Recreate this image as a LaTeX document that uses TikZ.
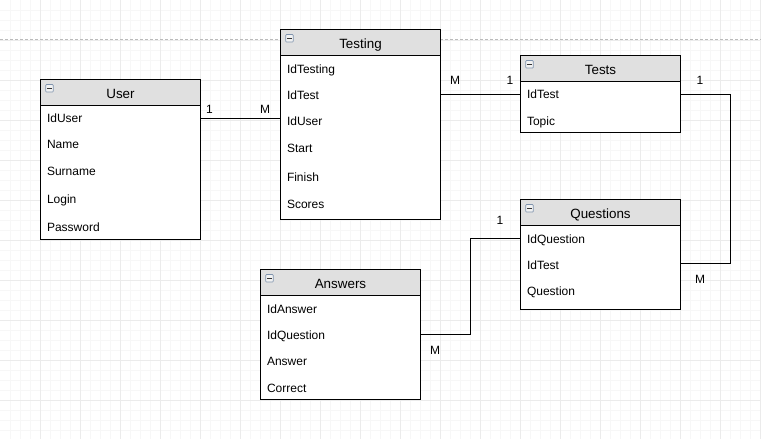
\documentclass[tikz,border=0pt]{standalone}
\usepackage{fontspec}
\setmainfont{Liberation Sans}
\usetikzlibrary{calc}
\definecolor{hdrgray}{HTML}{E0E0E0}
\definecolor{gridmaj}{HTML}{EBEBEB}
\definecolor{gridmin}{HTML}{F7F7F7}
\definecolor{iconline}{HTML}{7F93AD}
\definecolor{iconfill}{HTML}{F2F2F2}
\definecolor{pageline}{HTML}{BBBBBB}
\newcommand{\erentity}[6]{%
  \node[bodybox, minimum width=#4pt, minimum height=#5pt] (#1) at (#2,#3) {};
  \node[hdrbox, minimum width=#4pt] (#1h) at (#2,#3) {};
  \node[titletxt] (#1t) at ($(#1h.north)+(0,19.5)$) {#6};
  \node[iconbox] (#1i) at ($(#1h.north west)+(9,9)$) {};
  \draw[iconminus] ($(#1i.center)+(-2.2,0)$) -- ($(#1i.center)+(2.2,0)$);
}
\begin{document}
\begin{tikzpicture}[x=1pt,y=-1pt,
  bodybox/.style={draw=black, line width=0.9pt, fill=white, anchor=north west, inner sep=0pt, outer sep=0pt},
  hdrbox/.style={draw=black, line width=0.9pt, fill=hdrgray, anchor=north west, minimum height=26pt, inner sep=0pt, outer sep=0pt},
  titletxt/.style={anchor=base, inner sep=0pt, font=\fontsize{13.4}{15}\selectfont},
  fld/.style={anchor=base west, inner sep=0pt, font=\fontsize{12}{14}\selectfont},
  lbl/.style={anchor=base, inner sep=0pt, font=\fontsize{12}{14}\selectfont},
  iconbox/.style={draw=iconline, fill=iconfill, line width=0.7pt, minimum size=7.5pt, inner sep=0pt, rounded corners=0.8pt},
  iconminus/.style={draw=black!80, line width=0.9pt},
  conn/.style={draw=black, line width=0.9pt},
  gminor/.style={draw=gridmin, line width=0.6pt},
  gmajor/.style={draw=gridmaj, line width=0.8pt}]
\useasboundingbox (0,0) rectangle (761,439);
\fill[white] (0,0) rectangle (761,439);
% grid
\foreach \x in {10,20,...,760} {\draw[gminor] (\x,0) -- (\x,439);}
\foreach \y in {10,20,...,430} {\draw[gminor] (0,\y) -- (761,\y);}
\foreach \x in {40,80,...,760} {\draw[gmajor] (\x,0) -- (\x,439);}
\foreach \y in {40,80,...,400} {\draw[gmajor] (0,\y) -- (761,\y);}
% page line
\draw[pageline, line width=0.8pt, dash pattern=on 3pt off 2pt] (0,39) -- (761,39);

% entities
\erentity{ub}{40.5}{79.3}{160}{159.7}{User}
\erentity{tb}{280.5}{29.3}{160}{190}{Testing}
\erentity{tsb}{520.5}{55.3}{160}{77.2}{Tests}
\erentity{qb}{520.5}{199.3}{160}{109.7}{Questions}
\erentity{ab}{260.5}{269.3}{160}{129.7}{Answers}

% fields
\node[fld] (u1) at (46.8,122.6) {IdUser};
\node[fld] (u2) at (46.8,148.6) {Name};
\node[fld] (u3) at (46.8,175) {Surname};
\node[fld] (u4) at (46.8,203) {Login};
\node[fld] (u5) at (46.8,231) {Password};

\node[fld] (t1) at (286.8,73.3) {IdTesting};
\node[fld] (t2) at (286.8,99.3) {IdTest};
\node[fld] (t3) at (286.8,125) {IdUser};
\node[fld] (t4) at (286.8,152.6) {Start};
\node[fld] (t5) at (286.8,181) {Finish};
\node[fld] (t6) at (286.8,208.3) {Scores};

\node[fld] (s1) at (526.8,98.6) {IdTest};
\node[fld] (s2) at (526.8,125.3) {Topic};

\node[fld] (q1) at (526.8,243.3) {IdQuestion};
\node[fld] (q2) at (526.8,269.3) {IdTest};
\node[fld] (q3) at (526.8,295) {Question};

\node[fld] (a1) at (266.8,313.6) {IdAnswer};
\node[fld] (a2) at (266.8,339.3) {IdQuestion};
\node[fld] (a3) at (266.8,365) {Answer};
\node[fld] (a4) at (266.8,392.6) {Correct};

% connectors
\coordinate (k5) at (0,118.5);
\draw[conn] (ub.east |- k5) -- (tb.west |- k5);
\coordinate (k6) at (0,94.3);
\draw[conn] (tb.east |- k6) -- (tsb.west |- k6);
\coordinate (k1) at (730.3,94.3);
\coordinate (k2) at (730.3,263.8);
\draw[conn] (tsb.east |- k1) -- (k1) -- (k2) -- (qb.east |- k2);
\coordinate (k3) at (470.3,334.3);
\coordinate (k4) at (470.3,238.7);
\draw[conn] (ab.east |- k3) -- (k3) -- (k4) -- (qb.west |- k4);

% cardinality labels
\node[lbl] (l1) at (209.5,113.5) {1};
\node[lbl] (l2) at (265,113.5) {M};
\node[lbl] (l3) at (455,84.3) {M};
\node[lbl] (l4) at (510,84.3) {1};
\node[lbl] (l5) at (700,84.3) {1};
\node[lbl] (l6) at (700,283.5) {M};
\node[lbl] (l7) at (500,224.3) {1};
\node[lbl] (l8) at (435,354.3) {M};
\end{tikzpicture}
\end{document}
